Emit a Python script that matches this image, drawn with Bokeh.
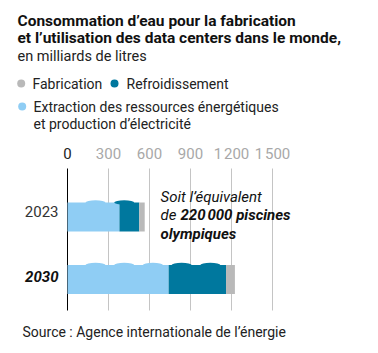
from bokeh.plotting import figure
from bokeh.models import Range1d, Label
from bokeh.core.properties import value
from bokeh.embed import file_html
from bokeh.resources import INLINE

# ---- data ----
years = ["2023", "2030"]
extraction = [380, 740]
refroidissement = [145, 420]
fabrication = [40, 65]
ticks = [0, 300, 600, 900, 1200, 1500]
tick_labels = ["0", "300", "600", "900", "1\u202f200", "1\u202f500"]

# ---- layout ----
W, H = 378, 353
X0 = 67.0          # pixel of zero
K = 41.0 / 300.0   # pixels per unit
bar_y = [216.5, 279]
bar_h = 29

C_LIGHT = "#8fcdf4"
C_DARK = "#00789e"
C_GRAY = "#b9b9b9"
FONT = "Roboto"

p = figure(width=W, height=H, x_range=Range1d(-X0 / K, (W - X0) / K),
           y_range=Range1d(H, 0), min_border=0, toolbar_location=None,
           output_backend="svg")
p.axis.visible = False
p.grid.visible = False
p.outline_line_color = None
p.background_fill_color = "white"

# grid lines
p.segment(x0=ticks[1:], x1=ticks[1:], y0=168, y1=310, line_color="#c4c4c4", line_width=1)
p.segment(x0=[ticks[0]], x1=[ticks[0]], y0=168, y1=310, line_color="black", line_width=1)

# tick labels
p.text(x=ticks[:1], y=[153], text=tick_labels[:1], text_align="center", text_baseline="middle",
       text_font=value(FONT), text_font_size="15px", text_color="#222222")
p.text(x=ticks[1:], y=[153] * (len(ticks) - 1), text=tick_labels[1:], text_align="center",
       text_baseline="middle", text_font=value(FONT), text_font_size="15px", text_color="#a8a8a8")

# stacked bars
left1 = [0, 0]
right1 = extraction
right2 = [a + b for a, b in zip(extraction, refroidissement)]
right3 = [a + b + c for a, b, c in zip(extraction, refroidissement, fabrication)]
p.hbar(y=bar_y, left=left1, right=right1, height=bar_h, fill_color=C_LIGHT, line_color=None)
p.hbar(y=bar_y, left=right1, right=right2, height=bar_h, fill_color=C_DARK, line_color=None)
p.hbar(y=bar_y, left=right2, right=right3, height=bar_h, fill_color=C_GRAY, line_color=None)

# decorative waves on top of bars
WAVE_STEP = 210
bx, by, bc = [], [], []
for yc, r1, r2 in zip(bar_y, right1, right2):
    xw = 205
    while xw < r2 - 40:
        bx.append(xw)
        by.append(yc - bar_h / 2)
        bc.append(C_LIGHT if xw < r1 else C_DARK)
        xw += WAVE_STEP
p.ellipse(x=bx, y=by, width=20 / K, height=4.5, fill_color=bc, line_color=None)

def lab(x, y, text, size="14px", style="normal", color="#1a1a1a", align="left"):
    p.add_layout(Label(x=x, y=H - y, x_units="screen", y_units="screen", text=text,
                       text_font=FONT, text_font_size=size, text_font_style=style,
                       text_color=color, text_align=align, text_baseline="middle"))

# year labels
lab(58, 211, years[0], size="15px", color="#333333", align="right")
lab(58, 276, years[1], size="15px", style="bold italic", color="#111111", align="right")

# titles
lab(17, 20, "Consommation d\u2019eau pour la fabrication", size="15.5px", style="bold", color="#111111")
lab(17, 37, "et l\u2019utilisation des data centers dans le monde,", size="15.5px", style="bold", color="#111111")
lab(17, 56, "en milliards de litres", size="14.5px", color="#222222")

# legend
p.scatter(x=[(20.7 - X0) / K, (114 - X0) / K, (21.7 - X0) / K], y=[83, 83, 106],
          size=8, marker="circle", fill_color=[C_GRAY, C_DARK, C_LIGHT], line_color=None)
lab(32, 83, "Fabrication", color="#222222")
lab(126, 83, "Refroidissement", color="#222222")
lab(33, 106, "Extraction des ressources \u00e9nerg\u00e9tiques", color="#222222")
lab(33, 123, "et production d\u2019\u00e9lectricit\u00e9", color="#222222")

# annotation
lab(160, 196, "Soit l\u2019\u00e9quivalent", size="15px", style="italic", color="#111111")
lab(160, 214, "de", size="15px", style="italic", color="#111111")
lab(180, 214, "220\u202f000 piscines", size="15px", style="bold italic", color="#111111")
lab(160, 233, "olympiques", size="15px", style="bold italic", color="#111111")

# source
lab(22, 331, "Source\u00a0: Agence internationale de l\u2019\u00e9nergie", size="14px", color="#222222")

open("out.html", "w").write(file_html(p, INLINE))
